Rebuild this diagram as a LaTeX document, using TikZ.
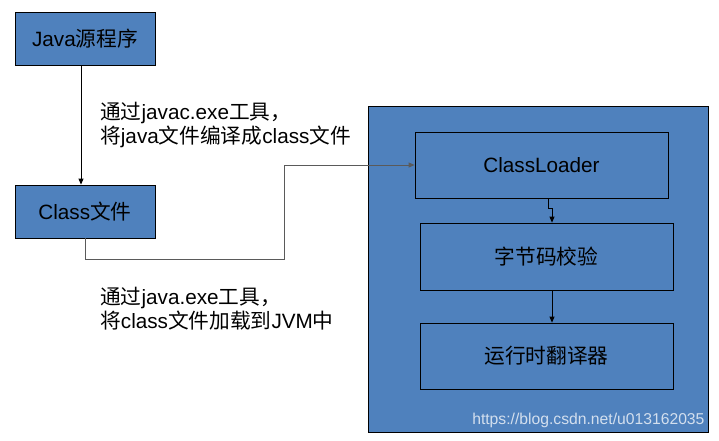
\documentclass[tikz,border=0pt]{standalone}
\usepackage{fontspec}
\setmainfont{Liberation Sans}
\newfontfamily\cjk{Noto Sans CJK SC}
\usetikzlibrary{arrows.meta}

\definecolor{boxblue}{HTML}{4F81BD}
\definecolor{wiregray}{HTML}{5A5A5A}
\tikzset{
  txt/.style={font=\fontsize{20.7}{24}\selectfont},
  srcbox/.style={txt, draw=black, fill=boxblue, line width=0.8pt, inner sep=0pt,
    minimum width=140pt, minimum height=53pt},
  jvmbox/.style={txt, draw=black, fill=boxblue, line width=0.8pt, inner sep=0pt,
    minimum width=253pt, minimum height=66pt},
  flow/.style={draw=black, line width=0.8pt, -{Triangle[length=6pt,width=5pt]}},
  wire/.style={draw=wiregray, line width=0.8pt, -{Triangle[length=6pt,width=5pt]}}
}

\begin{document}
\begin{tikzpicture}[x=1pt, y=-1pt]
\useasboundingbox (0,0) rectangle (719,440);

% left column: source and class file
\node[srcbox] (javasrc) at (85,38.5) {Java{\cjk 源程序}};
\node[srcbox] (classfile) at (85,211.5) {Class{\cjk 文件}};
\draw[flow] ([xshift=-4pt]javasrc.south) -- ([xshift=-4pt]classfile.north);
\node[txt, anchor=west, align=left, inner sep=0pt] (lbcompile) at (100,125)
  {{\cjk 通过}javac.exe{\cjk 工具，}\\{\cjk 将}java{\cjk 文件编译成}class{\cjk 文件}};

% the JVM
\draw[line width=0.8pt, fill=boxblue] (368,106) rectangle (708,432);
\node[jvmbox] (loader) at (541.5,165) {ClassLoader};
\node[jvmbox, minimum height=67pt] (verify) at (546.5,256.5) {\cjk 字节码校验};
\node[jvmbox] (interp) at (546.5,356) {\cjk 运行时翻译器};

% class file goes into the loader
\coordinate (bend) at (284,259);
\draw[wire] (classfile.south) |- (bend) |- (loader.west);
\node[txt, anchor=west, align=left, inner sep=0pt] (lbload) at (100,309)
  {{\cjk 通过}java.exe{\cjk 工具，}\\{\cjk 将}class{\cjk 文件加载到}JVM{\cjk 中}};

% inside the JVM
\coordinate (jog) at (552,208);
\draw[flow] (loader.south -| 548,0) |- (jog) -- (jog |- verify.north);
\draw[flow] (verify.south -| 552,0) -- (interp.north -| 552,0);

\node[anchor=east, text=white!75!boxblue, font=\fontsize{15.7}{18}\selectfont] (mark) at (708,420)
  {https://blog.csdn.net/u013162035};
\end{tikzpicture}
\end{document}
